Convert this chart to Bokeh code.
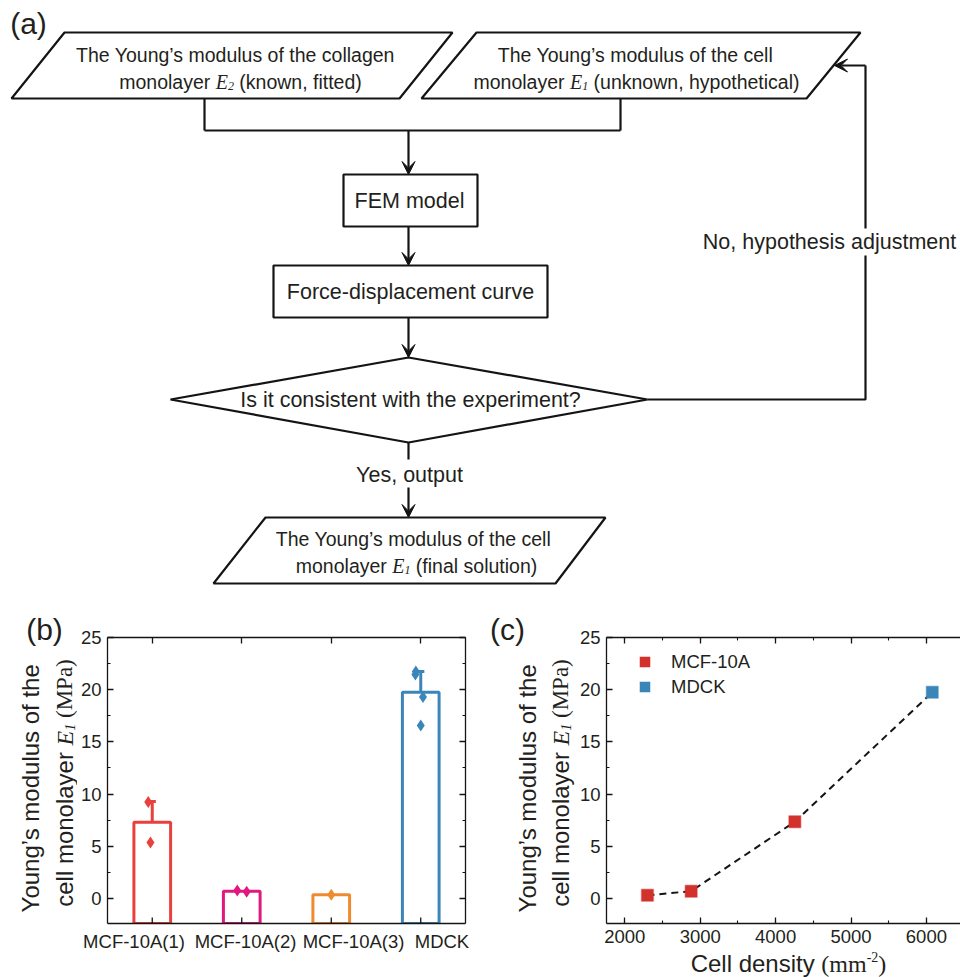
import math
from bokeh.plotting import figure
from bokeh.layouts import column, row
from bokeh.models import (Range1d, Arrow, VeeHead, LinearAxis, FixedTicker,
                          SingleIntervalTicker, CustomJSTickFormatter,
                          Legend, LegendItem)
from bokeh.core.properties import value
from bokeh.embed import file_html
from bokeh.resources import INLINE

# ---------------- data ----------------
categories = ["MCF-10A(1)", "MCF-10A(2)", "MCF-10A(3)", "MDCK"]
bar_means = [7.3, 0.7, 0.35, 19.76]
bar_err_up = [2.0, 0.0, 0.0, 1.98]
bar_colors = ["#e8403d", "#e0187f", "#ef8a2f", "#3b86b9"]

pt_category = ["MCF-10A(1)", "MCF-10A(1)", "MCF-10A(2)", "MCF-10A(2)", "MCF-10A(3)",
               "MDCK", "MDCK", "MDCK", "MDCK"]
pt_values = [9.25, 5.35, 0.75, 0.65, 0.35, 21.74, 21.45, 19.3, 16.57]
pt_jitter = [-0.045, -0.02, -0.05, 0.055, 0.0, -0.055, -0.06, 0.025, 0.0]

density = [2300, 2880, 4255, 6078]
modulus = [0.3, 0.7, 7.35, 19.75]
cell_line = ["MCF-10A", "MCF-10A", "MCF-10A", "MDCK"]
cell_line_names = ["MCF-10A", "MDCK"]
cell_line_colors = ["#d3322c", "#3a86b8"]

y_ticks_interval = 5
x_ticks_interval = 1000

TXT = "#231f20"
LC = "#141414"
SANS = "Liberation Sans"
SERIF = "Liberation Serif"

# ---------------- text width helpers (Arial / Times metrics) ----------------
SANS_W = {' ': 278, '\u2019': 222, "'": 191, '(': 333, ')': 333, ',': 278, '-': 333,
          '.': 278, '?': 556}
for ch in "0123456789":
    SANS_W[ch] = 556
SANS_W.update(dict(zip("ABCDEFGHIJKLMNOPQRSTUVWXYZ",
                       [667, 667, 722, 722, 667, 611, 778, 722, 278, 500, 667, 556, 833,
                        722, 778, 667, 778, 722, 667, 611, 722, 667, 944, 667, 667, 611])))
SANS_W.update(dict(zip("abcdefghijklmnopqrstuvwxyz",
                       [556, 556, 500, 556, 556, 278, 556, 556, 222, 222, 500, 222, 833,
                        556, 556, 556, 556, 333, 500, 278, 556, 500, 722, 500, 500, 500])))
SERIF_W = {'(': 333, ')': 333, 'M': 889, 'P': 556, 'a': 444, 'm': 778, 'E': 611,
           '1': 500, '2': 500, '\u2212': 564, '-': 333, ' ': 250}


def text_w(t, fam, size):
    table = SANS_W if fam == SANS else SERIF_W
    return sum(table.get(c, 556) for c in t) / 1000.0 * size


def split_space(t, fam, size):
    s = t.lstrip(" ")
    lead = text_w(t[:len(t) - len(s)], fam, size)
    return lead, s.rstrip(" ")


def put_text(fig, x, y, t, fam, st, size, angle=0.0, align="left"):
    fig.text(x=[x], y=[y], text=[t], text_font=value(fam), text_font_style=st,
             text_font_size=f"{size}px", text_align=align, text_baseline="middle",
             text_color=TXT, angle=angle)


def flow_line(fig, cx, cy, pieces):
    """horizontal mixed-font line; pieces (text, family, style, size, dy); dy in data units"""
    widths = [text_w(t, f, s) for (t, f, st, s, dy) in pieces]
    x = cx - sum(widths) / 2
    for (t, f, st, s, dy), w in zip(pieces, widths):
        lead, txt = split_space(t, f, s)
        put_text(fig, x + lead, cy + dy, txt, f, st, s)
        x += w


def v_line(fig, cx, cy, pieces):
    """bottom-to-top mixed-font line (y up); pieces (text, family, style, size, dx)"""
    widths = [text_w(t, f, s) for (t, f, st, s, dx) in pieces]
    y = cy - sum(widths) / 2
    for (t, f, st, s, dx), w in zip(pieces, widths):
        lead, txt = split_space(t, f, s)
        put_text(fig, cx + dx, y + lead, txt, f, st, s, angle=math.pi / 2)
        y += w


def canvas(w, h, flip=False):
    f = figure(width=w, height=h, x_range=Range1d(0, w),
               y_range=Range1d(h, 0) if flip else Range1d(0, h),
               output_backend="svg", toolbar_location=None, x_axis_location=None,
               y_axis_location=None, min_border=0, min_border_left=0, min_border_right=0,
               min_border_top=0, min_border_bottom=0)
    f.xgrid.visible = False
    f.ygrid.visible = False
    f.outline_line_color = None
    return f


# ---------------- (a) flowchart ----------------
fa = canvas(960, 600, flip=True)
LW = 2.2
fa.patch([64, 452, 399, 11], [32, 32, 98, 98], fill_color="white", line_color=LC, line_width=LW)
fa.patch([476, 860, 806, 421], [32, 32, 98, 98], fill_color="white", line_color=LC, line_width=LW)
fa.multi_line([[204, 204], [620, 620], [204, 620]], [[98, 130], [98, 130], [130, 130]],
              line_color=LC, line_width=LW)


def arrow(x0, y0, x1, y1):
    fa.add_layout(Arrow(end=VeeHead(size=13, fill_color=LC, line_color=LC, line_width=1),
                        x_start=x0, y_start=y0, x_end=x1, y_end=y1,
                        line_color=LC, line_width=LW))


arrow(408, 130, 408, 174)
fa.quad(left=[343], right=[477], top=[174], bottom=[226], fill_color="white",
        line_color=LC, line_width=LW)
arrow(408, 226, 408, 265)
fa.quad(left=[273], right=[547], top=[265], bottom=[317], fill_color="white",
        line_color=LC, line_width=LW)
arrow(408, 317, 408, 357)
fa.patch([408, 647, 408, 170], [357, 399, 442, 399], fill_color="white",
         line_color=LC, line_width=LW)
fa.line([408, 408], [442, 459], line_color=LC, line_width=LW)
arrow(408, 487, 408, 517)
fa.patch([265, 605, 555, 213], [517, 517, 583, 583], fill_color="white",
         line_color=LC, line_width=LW)
fa.multi_line([[647, 865, 865], [865, 865]], [[399, 399, 255], [228, 65]],
              line_color=LC, line_width=LW)
arrow(865, 65, 834, 65)

FS1 = 19.5
FS2 = 21.5
flow_line(fa, 236, 54, [("The Young\u2019s modulus of the collagen", SANS, "normal", FS1, 0)])
flow_line(fa, 240, 81, [("monolayer ", SANS, "normal", FS1, 0),
                        ("E", SERIF, "italic", 20, 0),
                        ("2", SERIF, "italic", 12, 4),
                        (" (known, fitted)", SANS, "normal", FS1, 0)])
flow_line(fa, 636, 54, [("The Young\u2019s modulus of the cell", SANS, "normal", FS1, 0)])
flow_line(fa, 636, 81, [("monolayer ", SANS, "normal", FS1, 0),
                        ("E", SERIF, "italic", 20, 0),
                        ("1", SERIF, "italic", 12, 4),
                        (" (unknown, hypothetical)", SANS, "normal", FS1, 0)])
flow_line(fa, 409, 200, [("FEM model", SANS, "normal", FS2, 0)])
flow_line(fa, 410, 291, [("Force-displacement curve", SANS, "normal", FS2, 0)])
flow_line(fa, 410, 399, [("Is it consistent with the experiment?", SANS, "normal", FS2, 0)])
flow_line(fa, 410, 474, [("Yes, output", SANS, "normal", FS2, 0)])
flow_line(fa, 829, 241, [("No, hypothesis adjustment", SANS, "normal", FS2, 0)])
flow_line(fa, 414, 538, [("The Young\u2019s modulus of the cell", SANS, "normal", FS1, 0)])
flow_line(fa, 416, 565, [("monolayer ", SANS, "normal", FS1, 0),
                         ("E", SERIF, "italic", 20, 0),
                         ("1", SERIF, "italic", 12, 4),
                         (" (final solution)", SANS, "normal", FS1, 0)])
flow_line(fa, 28, 23, [("(a)", SANS, "normal", 30, 0)])


# ---------------- axis styling ----------------
def style_axis(ax, labels=True):
    ax.axis_line_color = LC
    ax.axis_line_width = 1.3
    ax.major_tick_line_color = LC
    ax.major_tick_line_width = 1.3
    ax.minor_tick_line_color = LC
    ax.minor_tick_line_width = 1.1
    ax.major_tick_in = 6
    ax.major_tick_out = 0
    ax.minor_tick_in = 3
    ax.minor_tick_out = 0
    ax.major_label_text_font = SANS
    ax.major_label_text_font_size = "18.5px"
    ax.major_label_text_color = TXT
    ax.major_label_standoff = 6
    if not labels:
        ax.formatter = CustomJSTickFormatter(code="return ''")


Y_BOTTOM = -2.4
Y_TOP = 25
H = 377
TOP, BOT = 37, 54
YTITLE1 = ("Young\u2019s modulus of the", SANS, "normal", 24, 0)
YTITLE2 = [("cell monolayer ", SANS, "normal", 24, 0),
           ("E", SERIF, "italic", 24, 0),
           ("1", SERIF, "italic", 14, 5),
           (" (MPa)", SERIF, "normal", 23, 0)]

# ---------------- (b) title strip ----------------
sb = canvas(77, H)
put_text(sb, 44, 348, "(b)", SANS, "normal", 30, align="center")
v_line(sb, 30, 190.5, [YTITLE1])
v_line(sb, 64, 194.5, YTITLE2)

# ---------------- (b) bar chart ----------------
cat_pos = [i + 0.5 for i in range(len(categories))]
label_pos = [0.296, 1.542, 2.749, 3.737]   # where the category names sit under the bars
pos_of = dict(zip(categories, cat_pos))
fb = figure(width=403, height=H, x_range=Range1d(0, len(categories)),
            y_range=Range1d(Y_BOTTOM, Y_TOP), output_backend="svg", toolbar_location=None,
            min_border_left=27, min_border_right=15, min_border_top=TOP, min_border_bottom=BOT)
fb.xgrid.visible = False
fb.ygrid.visible = False
fb.outline_line_color = None

fb.vbar(x=cat_pos, top=bar_means, bottom=Y_BOTTOM, width=0.41, fill_color=None,
        line_color=bar_colors, line_width=3)
eb_x, eb_lo, eb_hi, eb_c = [], [], [], []
for p_, m, e, col in zip(cat_pos, bar_means, bar_err_up, bar_colors):
    if e > 0:
        eb_x.append(p_); eb_lo.append(m); eb_hi.append(m + e); eb_c.append(col)
fb.segment(x0=eb_x, x1=eb_x, y0=eb_lo, y1=eb_hi, line_color=eb_c, line_width=3)
fb.segment(x0=[v - 0.065 for v in eb_x], x1=[v + 0.04 for v in eb_x],
           y0=eb_hi, y1=eb_hi, line_color=eb_c, line_width=3)
col_of = dict(zip(categories, bar_colors))
fb.scatter(x=[pos_of[c] + j for c, j in zip(pt_category, pt_jitter)], y=pt_values,
           marker="diamond", size=12, fill_color=[col_of[c] for c in pt_category],
           line_color=None)
# inward bottom ticks at the bar centres
tick_units = 6 * (Y_TOP - Y_BOTTOM) / (H - TOP - BOT)
fb.segment(x0=cat_pos, x1=cat_pos, y0=[Y_BOTTOM] * len(cat_pos),
           y1=[Y_BOTTOM + tick_units] * len(cat_pos), line_color=LC, line_width=1.3)

fb.yaxis.ticker = SingleIntervalTicker(interval=y_ticks_interval, num_minor_ticks=2)
style_axis(fb.yaxis[0])
bx = fb.xaxis[0]
style_axis(bx)
bx.ticker = FixedTicker(ticks=label_pos, minor_ticks=[])
bx.formatter = CustomJSTickFormatter(args=dict(names=categories), code="return names[index]")
bx.major_tick_in = 0
bx.major_tick_out = 0
bx.major_label_standoff = 7
rb = LinearAxis(ticker=SingleIntervalTicker(interval=y_ticks_interval, num_minor_ticks=2))
style_axis(rb, labels=False)
fb.add_layout(rb, "right")
tb = LinearAxis(ticker=FixedTicker(ticks=cat_pos, minor_ticks=[]))
style_axis(tb, labels=False)
fb.add_layout(tb, "above")

# ---------------- (c) title strip ----------------
sc = canvas(96, H)
put_text(sc, 27, 348, "(c)", SANS, "normal", 30, align="center")
v_line(sc, 47, 190.5, [YTITLE1])
v_line(sc, 80, 194.5, YTITLE2)

# ---------------- (c) density vs modulus ----------------
fc = figure(width=384, height=350, x_range=Range1d(1757, 6452),
            y_range=Range1d(Y_BOTTOM, Y_TOP), output_backend="svg", toolbar_location=None,
            min_border_left=27, min_border_right=0, min_border_top=TOP, min_border_bottom=27)
fc.xgrid.visible = False
fc.ygrid.visible = False
fc.outline_line_color = None

fc.line(density, modulus, line_color=LC, line_width=2, line_dash="7 5")
items = []
for name, col in zip(cell_line_names, cell_line_colors):
    xs = [d for d, c in zip(density, cell_line) if c == name]
    ys = [m for m, c in zip(modulus, cell_line) if c == name]
    r = fc.scatter(xs, ys, marker="square", size=12, fill_color=col, line_color=col,
                   line_alpha=0.35, line_width=1.5)
    items.append(LegendItem(label=name, renderers=[r]))
leg = Legend(items=items, location=(25, 224), glyph_width=27, glyph_height=25,
             label_height=25, label_standoff=13, padding=0, spacing=0, margin=0,
             border_line_color=None, background_fill_alpha=0,
             label_text_font=SANS, label_text_font_size="18.5px", label_text_color=TXT)
fc.add_layout(leg)

fc.yaxis.ticker = SingleIntervalTicker(interval=y_ticks_interval, num_minor_ticks=2)
fc.xaxis.ticker = SingleIntervalTicker(interval=x_ticks_interval, num_minor_ticks=2)
style_axis(fc.yaxis[0])
style_axis(fc.xaxis[0])
tc = LinearAxis(ticker=SingleIntervalTicker(interval=x_ticks_interval, num_minor_ticks=2))
style_axis(tc, labels=False)
fc.add_layout(tc, "above")

# x title strip under (c)
sx = canvas(384, 27)
flow_line(sx, 212, 14, [("Cell density ", SANS, "normal", 24, 0),
                        ("(mm", SERIF, "normal", 24, 0),
                        ("-2", SERIF, "normal", 14, 7),
                        (")", SERIF, "normal", 24, 0)])

# each figure wrapped on its own so that frames are not aligned to their neighbours
bottom = row(column(sb), column(fb), column(sc), column(fc, row(sx)), spacing=0)
layout = column(fa, bottom, spacing=0)
open("out.html", "w").write(file_html(layout, INLINE, title="Young's modulus flowchart"))
